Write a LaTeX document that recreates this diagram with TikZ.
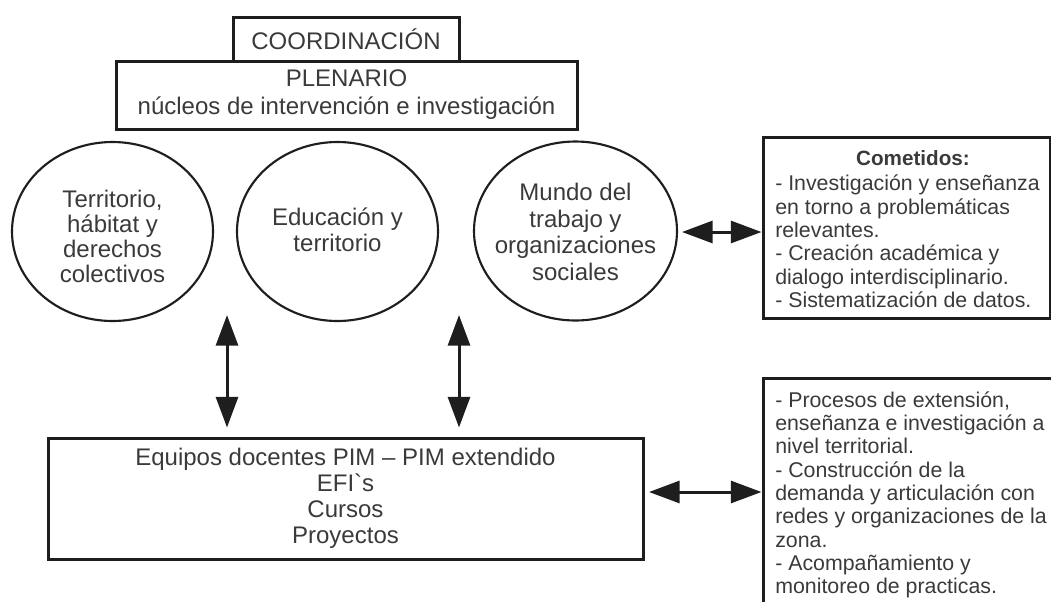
\documentclass[tikz,border=0pt]{standalone}
\usepackage{fontspec}
\setmainfont{Liberation Sans}
\usetikzlibrary{arrows.meta,shapes.geometric}
\definecolor{txt}{HTML}{3A3A3A}
\definecolor{ln}{HTML}{1E1E1E}
\begin{document}
\begin{tikzpicture}[x=0.75pt,y=-0.75pt,
  box/.style={draw=ln,line width=2.25pt,rectangle,inner sep=0pt,text=txt},
  ell/.style={draw=ln,line width=1.6pt,ellipse,inner sep=0pt,minimum width=150.75pt,minimum height=134.25pt},
  lbl/.style={text=txt,align=center,font=\fontsize{18}{18.75}\selectfont,inner sep=0pt},
  lst/.style={text=txt,align=left,font=\fontsize{16}{17.5}\selectfont,inner sep=0pt},
  arr/.style={draw=ln,line width=2.25pt,{Triangle[length=23pt,width=16.5pt]}-{Triangle[length=23pt,width=16.5pt]}}]
\useasboundingbox (0,0) rectangle (1051,601);
\clip (0,0) rectangle (1051,601);
% top boxes
\node[box,minimum width=345.75pt,minimum height=51pt,align=center,font=\fontsize{18}{21}\selectfont] (plen) at (346.5,95) {PLENARIO\\núcleos de intervención e investigación};
\node[box,minimum width=169.5pt,minimum height=33pt,font=\fontsize{18}{21}\selectfont] (coord) at (346,39) {COORDINACIÓN};
% ellipses
\node[ell] (e1) at (112.5,231.5) {};
\node[lbl] (t1) at (112.5,236) {Territorio,\\hábitat y\\derechos\\colectivos};
\node[ell] (e2) at (337.5,231.5) {};
\node[lbl,font=\fontsize{18}{19.5}\selectfont] (t2) at (337.5,230) {Educación y\\territorio};
\node[ell,minimum width=152.25pt] (e3) at (575.5,231) {};
\node[lbl,font=\fontsize{18}{20}\selectfont] (t3) at (575.5,232) {Mundo del\\trabajo y\\organizaciones\\sociales};
% bottom box
\node[box,minimum width=446.25pt,minimum height=90.75pt,align=center,font=\fontsize{18}{19.5}\selectfont] (bot) at (345.5,498.5) {Equipos docentes PIM – PIM extendido\\EFI\textasciigrave s\\Cursos\\Proyectos};
% right boxes
\node[box,minimum width=215.25pt,minimum height=135.75pt] (com) at (906.5,227.5) {};
\node[text=txt,font=\bfseries\fontsize{15.5}{17}\selectfont,inner sep=0pt] (comt) at (913,158) {Cometidos:};
\node[lst,anchor=west] (coml) at (775,241.5) {- Investigación y enseñanza\\en torno a problemáticas\\relevantes.\\- Creación académica y\\dialogo interdisciplinario.\\- Sistematización de datos.};
\node[box,minimum width=217.5pt,minimum height=196.5pt] (b2) at (908,509) {};
\node[lst,anchor=west] (b2l) at (775,495) {- Procesos de extensión,\\enseñanza e investigación a\\nivel territorial.\\- Construcción de la\\demanda y articulación con\\redes y organizaciones de la\\zona.\\- Acompañamiento y\\monitoreo de practicas.};
% arrows
\coordinate (v1) at (227,315);
\coordinate (v2) at (459,315);
\coordinate (h1) at (682,232);
\coordinate (h2) at (649,492);
\draw[arr,shorten >=6.75pt] (v1) -- (v1 |- bot.north);
\draw[arr,shorten >=6.75pt] (v2) -- (v2 |- bot.north);
\draw[arr] (h1) -- (h1 -| com.west);
\draw[arr] (h2) -- (h2 -| b2.west);
\end{tikzpicture}
\end{document}
